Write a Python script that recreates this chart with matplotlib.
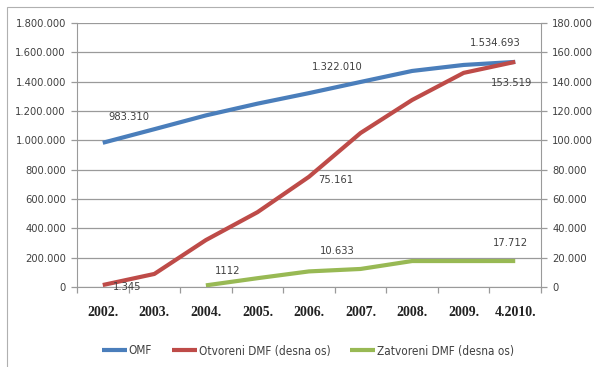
import matplotlib.pyplot as plt
from matplotlib.ticker import FuncFormatter, MultipleLocator, FixedLocator
from matplotlib.patches import Rectangle
import numpy as np

# Data
years = ['2002.', '2003.', '2004.', '2005.', '2006.', '2007.', '2008.', '2009.', '4.2010.']
omf = [983310, 1076000, 1170000, 1250000, 1322010, 1398000, 1473000, 1514000, 1534693]
otvoreni = [1345, 8900, 32000, 51000, 75161, 105000, 127500, 146000, 153519]
zatvoreni = [None, None, 1112, 6000, 10633, 12300, 17700, 17700, 17712]

blue = '#4a7ebb'
red = '#be4b48'
green = '#98b954'
grid_c = '#9a9a9a'
text_c = '#404040'

W, H = 594, 367
fig = plt.figure(figsize=(W / 100, H / 100), dpi=100)

# outer chart frame (only top and left edges fall inside the image)
fig.patches.append(Rectangle((7 / W, -0.1), 1.2, (H - 7) / H + 0.1, transform=fig.transFigure,
                             fill=False, edgecolor='#b0b0b0', linewidth=0.8))

ax = fig.add_axes([77 / W, (H - 287) / H, 464 / W, 264 / H])
ax2 = ax.twinx()

x = np.arange(len(years))
ax.set_xlim(-0.5, len(years) - 0.5)
ax.set_ylim(0, 1800000)
ax2.set_ylim(0, 180000)

dot_fmt = lambda v, sep=True: f"{int(v):,}".replace(',', '.') if sep else str(int(v))

ax.yaxis.set_major_locator(MultipleLocator(200000))
ax2.yaxis.set_major_locator(MultipleLocator(20000))
ax.yaxis.set_major_formatter(FuncFormatter(lambda v, p: dot_fmt(v)))
ax2.yaxis.set_major_formatter(FuncFormatter(lambda v, p: dot_fmt(v)))

ax.grid(axis='y', color=grid_c, linewidth=0.9)
ax.set_axisbelow(True)

for a in (ax, ax2):
    for s in a.spines.values():
        s.set_visible(False)
ax.spines['left'].set_visible(True)
ax.spines['left'].set_color(grid_c)
ax.spines['bottom'].set_visible(True)
ax.spines['bottom'].set_color(grid_c)
ax2.spines['right'].set_visible(True)
ax2.spines['right'].set_color(grid_c)

FONT = 'DejaVu Sans'
STRETCH = 'condensed'
ax.tick_params(axis='y', colors=grid_c, length=4, width=0.9, labelcolor=text_c, pad=4)
ax2.tick_params(axis='y', colors=grid_c, length=4, width=0.9, labelcolor=text_c, pad=4)
for lab in ax.get_yticklabels() + ax2.get_yticklabels():
    lab.set_fontfamily(FONT)
    lab.set_fontstretch(STRETCH)
    lab.set_fontsize(8)

# category boundaries as ticks, names centred between
ax.xaxis.set_major_locator(FixedLocator(np.arange(-0.5, len(years), 1.0)))
ax.xaxis.set_major_formatter(FuncFormatter(lambda v, p: ''))
ax.xaxis.set_minor_locator(FixedLocator(x))
ax.set_xticklabels(years, minor=True)
ax.tick_params(axis='x', which='major', colors=grid_c, length=4, width=0.9)
ax.tick_params(axis='x', which='minor', length=0, pad=14, labelcolor='#222222')
for lab in ax.get_xticklabels(minor=True):
    lab.set_fontfamily('Liberation Serif')
    lab.set_fontweight('bold')
    lab.set_fontsize(10)

lw = 3.0
l1, = ax.plot(x, omf, color=blue, lw=lw, solid_capstyle='butt', label='OMF')
z = np.array([np.nan if v is None else v for v in zatvoreni], dtype=float)
l2, = ax2.plot(x, otvoreni, color=red, lw=lw, solid_capstyle='butt', label='Otvoreni DMF (desna os)')
l3, = ax2.plot(x, z, color=green, lw=lw, solid_capstyle='butt', label='Zatvoreni DMF (desna os)')

lab_font = dict(family=FONT, stretch=STRETCH, size=8, color=text_c)

def label(a, i, v, dx, dy, sep=True):
    a.annotate(dot_fmt(v, sep), (x[i], v), xytext=(dx, dy), textcoords='offset pixels',
               ha='center', va='center', **lab_font)

label(ax, 0, omf[0], 26, 26)
label(ax, 4, omf[4], 28, 26)
label(ax, 8, omf[8], -20, 19)
label(ax2, 8, otvoreni[8], -4, -21)
label(ax2, 4, otvoreni[4], 27, -3)
label(ax2, 0, otvoreni[0], 24, -2)
label(ax2, 2, zatvoreni[2], 22, 14, sep=False)
label(ax2, 4, zatvoreni[4], 28, 20)
label(ax2, 8, zatvoreni[8], -5, 18)

fig.legend(handles=[l1, l2, l3], loc='center', bbox_to_anchor=(308 / W, (H - 351) / H),
           ncol=3, frameon=False, handlelength=2.1, handletextpad=0.15, columnspacing=1.7,
           prop={'family': FONT, 'stretch': STRETCH, 'size': 8.5})
for t in fig.legends[0].get_texts():
    t.set_color(text_c)

fig.savefig('out.png', dpi=100)
